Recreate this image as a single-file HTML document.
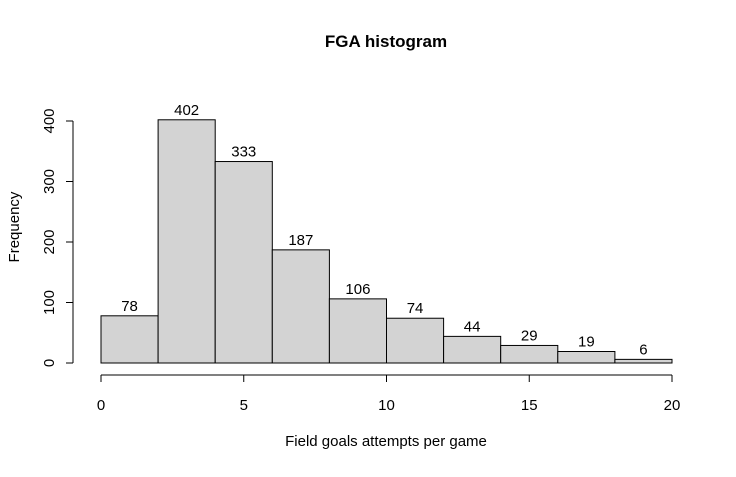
<!DOCTYPE html>
<html><head><meta charset="utf-8"><style>
body{margin:0;background:#fff}
svg text{font-family:"Liberation Sans",Arial,sans-serif;fill:#000}
</style></head><body>
<svg id="chart" width="736" height="472">
<text x="386" y="47" text-anchor="middle" font-size="17" font-weight="bold">FGA histogram</text>
<text x="386" y="446" text-anchor="middle" font-size="15">Field goals attempts per game</text>
<text transform="translate(19,227) rotate(-90)" text-anchor="middle" font-size="15">Frequency</text>
<g id="bars"></g><g id="xaxis"></g><g id="yaxis"></g>
</svg>
<script>
const binEdges=[0,2,4,6,8,10,12,14,16,18,20];
const counts=[78,402,333,187,106,74,44,29,19,6];
const xTicks=[0,5,10,15,20];
const yTicks=[0,100,200,300,400];
const NS='http://www.w3.org/2000/svg';
const xs=v=>101+v*(672-101)/20;
const ys=v=>363-v*(363-121)/400;
function mk(t,a,p){const e=document.createElementNS(NS,t);for(const k in a)e.setAttribute(k,a[k]);p.appendChild(e);return e;}
const bars=document.getElementById('bars');
counts.forEach((c,i)=>{
 const r=mk('rect',{x:xs(binEdges[i]),y:ys(c),width:xs(binEdges[i+1])-xs(binEdges[i]),height:ys(0)-ys(c),fill:'#d3d3d3',stroke:'#000','stroke-width':1},bars);
 
 
 const t=mk('text',{x:(xs(binEdges[i])+xs(binEdges[i+1]))/2,y:ys(c)-5,'text-anchor':'middle','font-size':'15'},bars);
 t.textContent=c;
 
 
});
const xa=document.getElementById('xaxis');
mk('line',{x1:xs(xTicks[0]),x2:xs(xTicks[xTicks.length-1]),y1:375,y2:375,stroke:'#000'},xa);
xTicks.forEach(v=>{
 mk('line',{x1:xs(v),x2:xs(v),y1:375,y2:382,stroke:'#000'},xa);
 const t=mk('text',{x:xs(v),y:410,'text-anchor':'middle','font-size':'15'},xa);
 t.textContent=v;
 
 
});
const ya=document.getElementById('yaxis');
mk('line',{x1:73,x2:73,y1:ys(yTicks[0]),y2:ys(yTicks[yTicks.length-1]),stroke:'#000'},ya);
yTicks.forEach(v=>{
 mk('line',{x1:66,x2:73,y1:ys(v),y2:ys(v),stroke:'#000'},ya);
 const t=mk('text',{transform:`translate(54,${ys(v)}) rotate(-90)`,'text-anchor':'middle','font-size':'15'},ya);
 t.textContent=v;
 
 
});
</script>
</body></html>
